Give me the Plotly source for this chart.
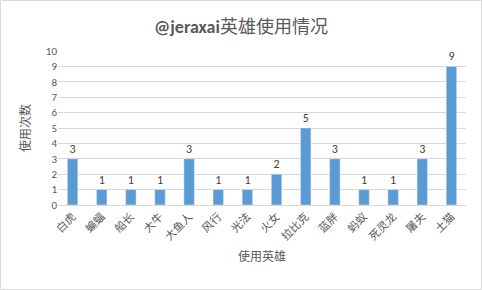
import plotly.graph_objects as go

heroes = ["白虎", "蝙蝠", "船长", "大牛", "大鱼人", "风行", "光法", "火女", "拉比克", "蓝胖", "蚂蚁", "死灵龙", "屠夫", "土猫"]
counts = [3, 1, 1, 1, 3, 1, 1, 2, 5, 3, 1, 1, 3, 9]
y_ticks = list(range(0, 11))

W, H = 482, 290
L, R, T, B = 58, 16, 51, 85
pw, ph = W - L - R, H - T - B

font = "Calibri, 'Noto Sans CJK SC', 'Liberation Sans', sans-serif"

fig = go.Figure(go.Bar(
    x=heroes, y=counts, marker_color="#5B9BD5", width=0.36,
    text=counts, textposition="outside", cliponaxis=False,
    textfont=dict(size=12, color="#404040", family=font),
))

fig.update_layout(
    width=W, height=H, margin=dict(l=L, r=R, t=T, b=B),
    paper_bgcolor="white", plot_bgcolor="white",
    font=dict(family=font, color="#595959", size=11),
    title=dict(text="<b>@jeraxai</b>英雄使用情况", x=0.5, xanchor="center",
               y=1 - 27 / H, yanchor="middle",
               font=dict(size=18, color="#595959", family=font)),
    showlegend=False,
    xaxis=dict(tickangle=-45, tickfont=dict(size=11, color="#595959"),
               showline=True, linecolor="#D9D9D9", ticks="",
               title=dict(text="使用英雄", font=dict(size=12, color="#595959"), standoff=10)),
    yaxis=dict(range=[0, 10], tickvals=y_ticks, showgrid=True, gridcolor="#D9D9D9",
               zeroline=False, ticks="", tickfont=dict(size=11, color="#595959"),
               title=dict(text="使用次数", font=dict(size=12, color="#595959"), standoff=12)),
    shapes=[dict(type="rect", xref="paper", yref="paper",
                 x0=(0.5 - L) / pw, x1=(W - 0.5 - L) / pw,
                 y0=-(B - 0.5) / ph,
                 y1=1 + (T - 0.5) / ph,
                 line=dict(color="#D9D9D9", width=1), layer="below")],
)

fig.write_html("out.html")
